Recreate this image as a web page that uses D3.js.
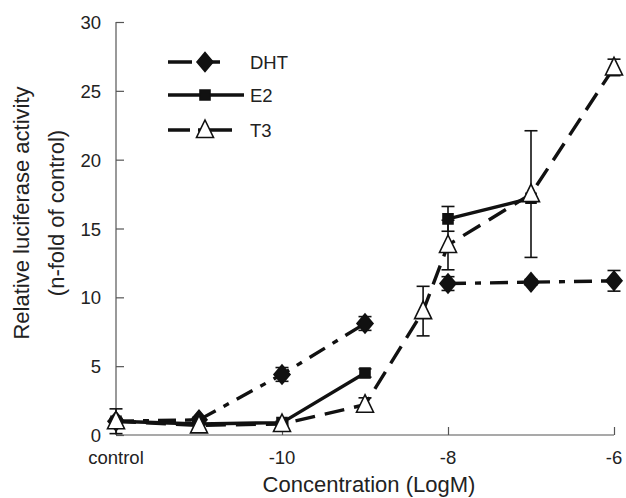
<!DOCTYPE html>
<html>
<head>
<meta charset="utf-8">
<script src="https://cdn.jsdelivr.net/npm/d3@7"></script>
<style>
body { margin: 0; background: #fff; }
text { font-family: "Liberation Sans", Arial, sans-serif; fill: #222; }
</style>
</head>
<body>
<div id="chart"></div>
<script>
// log concentration, control drawn at -12
const doses = [-12, -11, -10, -9, -8.3, -8, -7, -6];
const xTicks = [-12, -10, -8, -6];
const xTickLabels = ["control", "-10", "-8", "-6"];
const yTicks = [0, 5, 10, 15, 20, 25, 30];

const dht = [1.0, 1.1, 4.4, 8.1, null, 11.0, 11.1, 11.2];
const dhtErr = [0.2, 0.2, 0.5, 0.5, null, 0.5, 0.2, 0.75];
const e2 = [1.0, 0.8, 0.9, 4.5, null, 15.7, 17.2, null];
const e2Err = [0.2, 0, 0.1, 0.3, null, 0.9, 0, null];
const t3 = [1.0, 0.7, 0.8, 2.2, 9.0, 13.8, 17.5, 26.7];
const t3Err = [0.9, 0, 0.1, 0.5, 1.8, 1.8, 4.6, 0.6];

const width = 626, height = 498;

const svg = d3.select("#chart").append("svg")
    .attr("width", width)
    .attr("height", height);

const x = d3.scaleLinear().domain([-12, -6]).range([116, 614]);
const y = d3.scaleLinear().domain([0, 30]).range([435, 22]);

// axes, ticks pointing inward
const xAxis = svg.append("g").attr("transform", `translate(0,${y(0)})`)
    .call(d3.axisTop(x).tickValues(xTicks).tickSize(8).tickFormat(""));
xAxis.select(".domain").attr("d", `M${x(-12)},0H${x(-6)}`);
xAxis.selectAll("line,path").attr("stroke", "#555").attr("stroke-width", 1.2);

svg.selectAll(".xlab").data(xTicks).enter().append("text")
    .attr("x", d => x(d)).attr("y", y(0) + 29)
    .attr("text-anchor", "middle").attr("font-size", 18.5)
    .text((d, i) => xTickLabels[i]);

const yAxis = svg.append("g").attr("transform", `translate(${x(-12)},0)`)
    .call(d3.axisRight(y).tickValues(yTicks).tickSize(8).tickFormat(""));
yAxis.select(".domain").attr("d", `M0,${y(30)}V${y(0)}`);
yAxis.selectAll("line,path").attr("stroke", "#555").attr("stroke-width", 1.2);

svg.selectAll(".ylab").data(yTicks).enter().append("text")
    .attr("x", 101).attr("y", d => y(d) + 7)
    .attr("text-anchor", "end").attr("font-size", 18.5)
    .text(d => d);

svg.append("text").attr("x", 369).attr("y", 492)
    .attr("text-anchor", "middle").attr("font-size", 22)
    .text("Concentration (LogM)");
svg.append("text").attr("transform", "translate(29,213) rotate(-90)")
    .attr("text-anchor", "middle").attr("font-size", 22)
    .text("Relative luciferase activity");
svg.append("text").attr("transform", "translate(64,213) rotate(-90)")
    .attr("text-anchor", "middle").attr("font-size", 22)
    .text("(n-fold of control)");

// marker shapes
const diamond = "M0,-9.5L8,0L0,9.5L-8,0Z";
const square = "M-5,-5H5V5H-5Z";
const triangle = "M0,-10L8.5,7.5H-8.5Z";

const series = [
    { name: "DHT", vals: dht, err: dhtErr, dash: "18,9,6,9", shape: diamond, fill: "#111",
      legDash: "24,14,14,100" },
    { name: "E2", vals: e2, err: e2Err, dash: null, shape: square, fill: "#111", legDash: null },
    { name: "T3", vals: t3, err: t3Err, dash: "20,10", shape: triangle, fill: "#fff",
      legDash: "22,8,34,100" }
];

const line = d3.line()
    .defined(d => d.v != null)
    .x(d => x(d.x)).y(d => y(d.v));

series.forEach(s => {
    const pts = doses.map((dd, i) => ({ x: dd, v: s.vals[i], e: s.err[i] }));
    // E2 has no connection between -9 and -8
    const segs = s.name === "E2" ? [pts.slice(0, 4), pts.slice(5, 7)] : [pts];
    segs.forEach(seg => {
        svg.append("path").datum(seg)
            .attr("d", line)
            .attr("fill", "none").attr("stroke", "#111")
            .attr("stroke-width", 3.4)
            .attr("stroke-dasharray", s.dash);
    });
    s.pts = pts.filter(p => p.v != null);
});

// error bars
series.forEach(s => {
    const g = svg.append("g").attr("stroke", "#111").attr("stroke-width", 1.6);
    s.pts.filter(p => p.e > 0).forEach(p => {
        const cx = x(p.x);
        g.append("line").attr("x1", cx).attr("x2", cx).attr("y1", y(p.v - p.e)).attr("y2", y(p.v + p.e));
        [p.v - p.e, p.v + p.e].forEach(v => {
            g.append("line").attr("x1", cx - 6.5).attr("x2", cx + 6.5).attr("y1", y(v)).attr("y2", y(v));
        });
    });
});

// markers
series.forEach(s => {
    svg.selectAll(null).data(s.pts).enter().append("path")
        .attr("transform", d => `translate(${x(d.x)},${y(d.v)})`)
        .attr("d", s.shape)
        .attr("fill", s.fill).attr("stroke", "#111").attr("stroke-width", 1.6);
});

// legend
const legY = [62, 95, 130];
series.forEach((s, i) => {
    const ly = legY[i];
    svg.append("line").attr("x1", 168).attr("x2", 244).attr("y1", ly).attr("y2", ly)
        .attr("stroke", "#111").attr("stroke-width", 3.4)
        .attr("stroke-dasharray", s.legDash);
    svg.append("path").attr("transform", `translate(205,${ly})`)
        .attr("d", s.shape)
        .attr("fill", s.fill).attr("stroke", "#111").attr("stroke-width", 1.6);
    svg.append("text").attr("x", 250).attr("y", ly + 7).attr("font-size", 18.5).text(s.name);
});
</script>
</body>
</html>
